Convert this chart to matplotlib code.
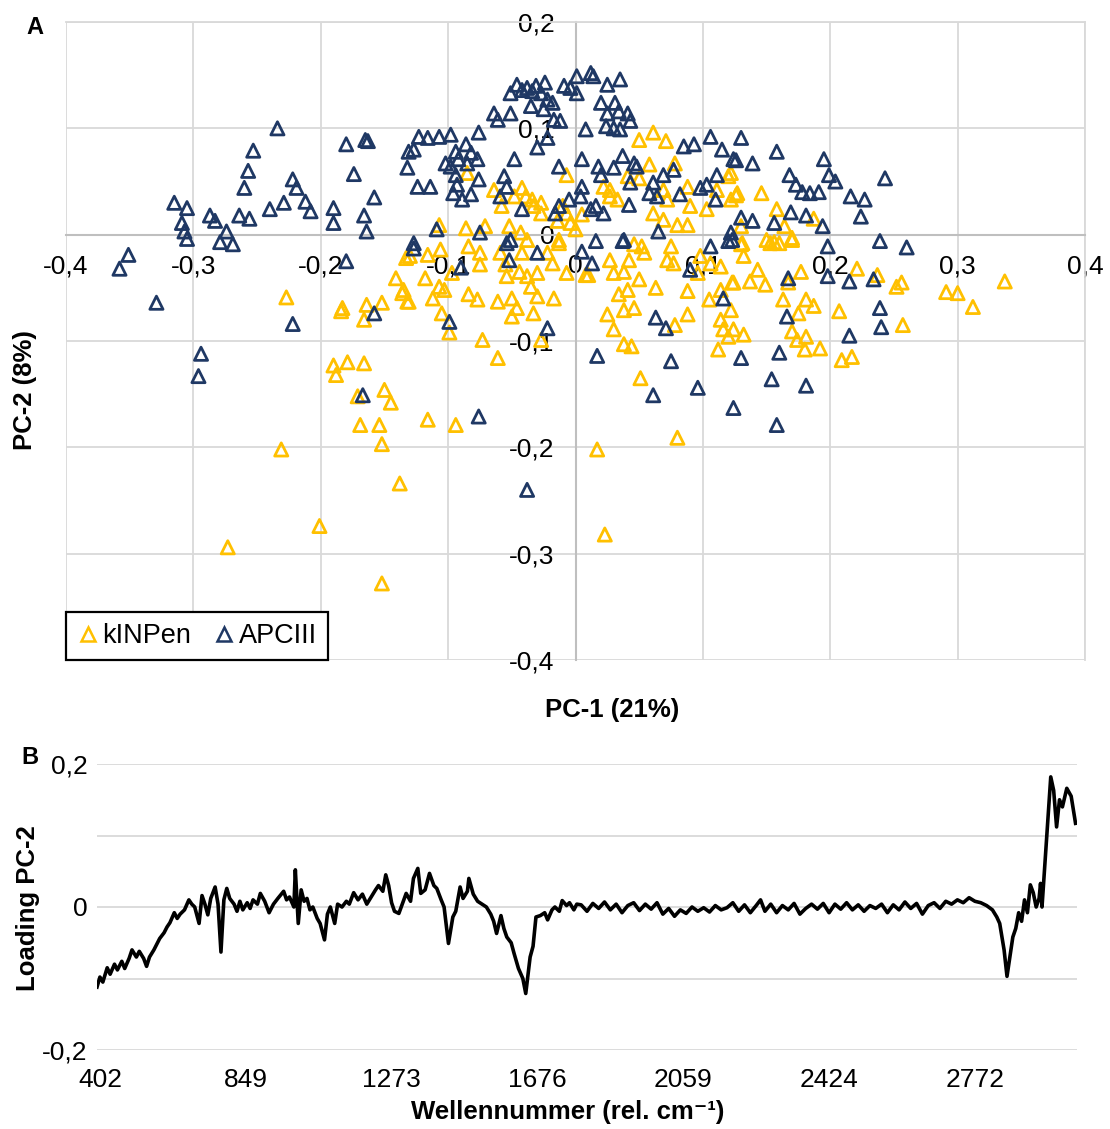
import numpy as np
import matplotlib
matplotlib.use("Agg")
import matplotlib.pyplot as plt
from matplotlib.lines import Line2D

plt.rcParams['font.family'] = ['Liberation Sans', 'DejaVu Sans']

# ---------------- panel A: PCA scores ----------------
kinpen_x = [0.050, 0.061, 0.071, 0.058, 0.078, -0.007, 0.050, 0.041, 0.022, 0.027, 0.033, 0.069,
            0.072, 0.088, 0.090, 0.061, 0.069, 0.080, 0.088, 0.103, 0.111, 0.120, 0.122, 0.127,
            -0.064, -0.042, -0.039, -0.048, -0.034, -0.027, -0.033, -0.027, -0.010, -0.007, -0.004,
            0.000, -0.014, 0.005, 0.027, -0.086, -0.071, -0.107, -0.052, -0.043, -0.038, -0.013,
            -0.058, -0.085,
            -0.130, -0.116, -0.106, -0.118, -0.107, -0.103, -0.112, -0.131, -0.135, -0.097, -0.084,
            -0.075, -0.075, -0.084, -0.077, -0.061, -0.050, -0.046, -0.050, -0.033, -0.030, -0.017,
            -0.105, -0.099, -0.073, -0.061, -0.116, -0.094, -0.035, -0.030, -0.038, -0.044, -0.054,
            -0.055, -0.059, -0.042, -0.022, -0.018, -0.007, -0.013, -0.027,
            0.008, 0.010, 0.027, 0.030, 0.038, 0.042, 0.050, 0.054, 0.052, 0.046, 0.034, 0.041,
            0.038, 0.046, 0.025, 0.030, 0.038, 0.044, 0.051, 0.063, 0.078, 0.080, 0.088, 0.088,
            0.096, 0.072, 0.077, 0.075, 0.098, 0.106, 0.114, 0.105, 0.114, 0.122, 0.123, 0.114,
            0.116, 0.112, 0.120,
            -0.227, -0.133, -0.141, -0.136, -0.132, -0.183, -0.184, -0.164, -0.166, -0.152, -0.190,
            -0.188, -0.179, -0.166, -0.171, -0.150, -0.145, -0.169, -0.154, -0.152,
            -0.231, -0.273, -0.201, -0.138, -0.152, 0.017, 0.023,
            0.132, 0.143, 0.137, 0.149, 0.124, 0.177, 0.167, 0.163, 0.181, 0.187, 0.175, 0.170,
            0.174, 0.181, 0.180, 0.192, 0.207, 0.221, 0.237, 0.252, 0.256, 0.257, 0.209, 0.217,
            0.291, 0.300, 0.312, 0.337, 0.132, 0.124, 0.160, 0.153, 0.170, 0.130,
            0.126, 0.146, 0.158, 0.187, 0.164, 0.170, 0.150, 0.156, 0.130, 0.131, 0.122]
kinpen_y = [0.089, 0.096, 0.088, 0.066, 0.067, 0.056, 0.053, 0.055, 0.045, 0.042, 0.033, 0.042,
            0.033, 0.045, 0.027, 0.020, 0.014, 0.009, 0.009, 0.024, 0.042, 0.055, 0.033, 0.039,
            0.042, 0.044, 0.036, 0.036, 0.033, 0.030, 0.027, 0.020, 0.027, 0.020, 0.011,
            0.005, 0.013, 0.019, 0.036, 0.006, 0.008, 0.009, 0.008, 0.002, -0.005, -0.005,
            0.027, 0.058,
            -0.020, -0.019, -0.014, -0.041, -0.049, -0.052, -0.060, -0.063, -0.052, -0.036, -0.011,
            -0.017, -0.028, -0.056, -0.061, -0.063, -0.060, -0.069, -0.077, -0.074, -0.058, -0.060,
            -0.074, -0.092, -0.099, -0.116, -0.174, -0.179, -0.049, -0.036, -0.039, -0.035, -0.039,
            -0.028, -0.017, -0.017, -0.017, -0.027, -0.036, -0.008, -0.099,
            -0.038, -0.038, -0.024, -0.036, -0.035, -0.024, -0.042, -0.017, -0.011, -0.009, -0.056,
            -0.052, -0.071, -0.069, -0.075, -0.089, -0.103, -0.105, -0.135, -0.050, -0.085, -0.191,
            -0.075, -0.053, -0.036, -0.024, -0.027, -0.011, -0.020, -0.027, -0.030, -0.061, -0.052,
            -0.071, -0.045, -0.080, -0.089, -0.108, -0.096,
            -0.059, -0.022, -0.041, -0.055, -0.063, -0.069, -0.072, -0.066, -0.080, -0.064, -0.123,
            -0.132, -0.120, -0.121, -0.152, -0.146, -0.158, -0.179, -0.179, -0.197,
            -0.202, -0.294, -0.274, -0.234, -0.328, -0.202, -0.282,
            -0.020, -0.033, -0.044, -0.047, -0.045, -0.035, -0.045, -0.061, -0.061, -0.067, -0.074,
            -0.091, -0.099, -0.096, -0.108, -0.107, -0.072, -0.032, -0.038, -0.049, -0.045, -0.085,
            -0.118, -0.115, -0.054, -0.055, -0.068, -0.044, -0.094, -0.089, -0.008, -0.008, -0.005,
            -0.009,
            0.037, 0.039, 0.024, 0.015, 0.008, -0.003, -0.005, -0.007, 0.008, -0.008, 0.058]

apciii_x = [-0.234, -0.253, -0.257, -0.260, -0.222, -0.219, -0.212, -0.208, -0.229, -0.240, -0.256,
            -0.264, -0.315, -0.305, -0.309, -0.307, -0.305, -0.287, -0.283, -0.274, -0.279, -0.269,
            -0.180, -0.165, -0.163, -0.174, -0.158, -0.190, -0.190, -0.166, -0.164, -0.131, -0.132,
            -0.351, -0.358, -0.329, -0.222, -0.294, -0.296, -0.180, -0.158, -0.167,
            0.198, 0.239, 0.260, 0.167, 0.198, 0.215, 0.234, 0.239, 0.240, 0.215, 0.166, 0.160,
            0.130, 0.154, 0.181, 0.124, 0.158,
            0.130, 0.126, 0.139, 0.158, 0.195, 0.168, 0.173, 0.178, 0.184, 0.191, 0.199, 0.204,
            0.243, 0.216, 0.227, 0.224, 0.169, 0.181, 0.156, 0.194, 0.130, 0.139, 0.123,
            -0.046, -0.051, -0.042, -0.038, -0.034, -0.031, -0.027, -0.024, -0.022, -0.018, -0.025,
            -0.035, -0.051, -0.064, -0.061, -0.017, -0.012, -0.022, -0.030, -0.009, -0.004, 0.001,
            0.001, 0.012, 0.014, 0.025, 0.035, 0.020, 0.025, 0.031, 0.034, 0.041, 0.043, 0.024,
            0.030, 0.035, 0.008,
            -0.123, -0.116, -0.107, -0.098, -0.076, -0.127, -0.102, -0.094, -0.086, -0.082, -0.077,
            -0.092, -0.085, -0.098, -0.094, -0.093, -0.096, -0.089, -0.082, -0.076, -0.124, -0.114,
            -0.048, -0.056, -0.054, -0.059, -0.013, 0.005, 0.005, 0.004, -0.005, -0.013, -0.016,
            0.012, 0.016, 0.022, -0.042, -0.051, -0.075, -0.109, -0.127, 0.018, 0.020, 0.030,
            0.037, 0.046, 0.048, 0.043, 0.061, 0.058, 0.064, 0.069, 0.077, 0.042, 0.065, 0.082,
            0.085, 0.093, 0.106, 0.115, 0.124, 0.098, 0.103, 0.111, 0.110, 0.122, 0.038, 0.016,
            -0.127, -0.090, -0.099, -0.054, -0.052, -0.030, -0.022, 0.005, 0.013, 0.037, 0.063,
            0.071, 0.017, 0.075, 0.061, 0.096, -0.076, 0.106, 0.120, 0.116, 0.090, -0.038]
apciii_y = [0.100, 0.079, 0.060, 0.044, 0.052, 0.044, 0.031, 0.022, 0.030, 0.024, 0.015,
            0.018, 0.030, 0.025, 0.011, 0.003, -0.004, 0.018, 0.013, 0.003, -0.007, -0.009,
            0.085, 0.089, 0.088, 0.057, 0.035, 0.025, 0.011, 0.018, 0.003, 0.078, 0.063,
            -0.019, -0.032, -0.064, -0.084, -0.112, -0.133, -0.025, -0.074, -0.151,
            -0.011, -0.006, -0.012, -0.041, -0.039, -0.044, -0.042, -0.069, -0.087, -0.095, -0.077,
            -0.111, -0.116, -0.136, -0.142, -0.163, -0.179,
            0.091, 0.070, 0.067, 0.078, 0.071, 0.056, 0.047, 0.040, 0.039, 0.040, 0.056, 0.050,
            0.053, 0.036, 0.033, 0.017, 0.021, 0.018, 0.011, 0.008, 0.016, 0.013, -0.005,
            0.141, 0.133, 0.136, 0.138, 0.135, 0.140, 0.133, 0.143, 0.127, 0.124, 0.118,
            0.121, 0.114, 0.114, 0.108, 0.108, 0.107, 0.091, 0.082, 0.140, 0.138, 0.149,
            0.133, 0.152, 0.149, 0.141, 0.146, 0.124, 0.114, 0.124, 0.116, 0.114, 0.107, 0.102,
            0.100, 0.099, 0.099,
            0.092, 0.091, 0.092, 0.094, 0.096, 0.080, 0.067, 0.078, 0.085, 0.077, 0.071,
            0.071, 0.067, 0.064, 0.056, 0.047, 0.039, 0.033, 0.038, 0.052, 0.045, 0.045,
            0.071, 0.055, 0.045, 0.036, 0.064, 0.071, 0.045, 0.036, 0.033, 0.027, 0.020,
            0.024, 0.027, 0.020, 0.024, -0.005, 0.002, 0.005, -0.008, 0.064, 0.056, 0.063,
            0.074, 0.067, 0.064, 0.049, 0.049, 0.039, 0.036, 0.056, 0.061, 0.028, 0.003, 0.038,
            0.083, 0.085, 0.092, 0.080, 0.071, 0.044, 0.047, 0.056, 0.033, 0.002, -0.005, -0.006,
            -0.013, -0.031, -0.082, -0.008, -0.024, -0.017, -0.088, -0.016, -0.027, -0.006, -0.078,
            -0.088, -0.114, -0.119, -0.151, -0.144, -0.171, -0.011, -0.006, -0.060, -0.033, -0.240]

# ---------------- panel B: loading PC-2 ----------------
wn_labels = ["402", "849", "1273", "1676", "2059", "2424", "2772"]
load_pos = [-0.02, 0.00, 0.02, 0.05, 0.07, 0.10, 0.12, 0.15, 0.17, 0.20, 0.22, 0.25, 0.27, 0.30,
            0.32, 0.34, 0.37, 0.39, 0.41, 0.44, 0.46, 0.48, 0.51, 0.53, 0.55, 0.58, 0.61, 0.63,
            0.65, 0.68, 0.70, 0.72, 0.74, 0.76, 0.79, 0.81, 0.83, 0.85, 0.87, 0.89, 0.92, 0.94,
            0.96, 0.98, 1.01, 1.03, 1.05, 1.08, 1.10, 1.13, 1.16, 1.19, 1.22, 1.26, 1.28, 1.30,
            1.33, 1.34, 1.36, 1.38, 1.40, 1.42, 1.44, 1.46, 1.49, 1.51, 1.54, 1.56, 1.58, 1.61,
            1.63, 1.66, 1.69, 1.71, 1.74, 1.77, 1.80, 1.83, 1.86, 1.89, 1.91, 1.94, 1.96, 1.98,
            2.00, 2.02, 2.05, 2.08, 2.10, 2.13, 2.15, 2.18, 2.20, 2.23, 2.26, 2.29, 2.31, 2.34,
            2.36, 2.39, 2.42, 2.44, 2.47, 2.49, 2.52, 2.53, 2.56, 2.59, 2.62, 2.65, 2.68, 2.70,
            2.72, 2.75, 2.77, 2.79, 2.82, 2.84, 2.87, 2.90, 2.92, 2.95, 2.97, 2.99, 3.02, 3.05,
            3.07, 3.10, 3.12, 3.15, 3.17, 3.20, 3.22, 3.25, 3.27,
            3.30, 3.34, 3.38, 3.42, 3.46, 3.50, 3.54, 3.58, 3.62, 3.66, 3.70, 3.74, 3.78, 3.82,
            3.86, 3.90, 3.94, 3.98, 4.02, 4.06, 4.10, 4.14, 4.18, 4.22, 4.26, 4.30, 4.34, 4.38,
            4.42, 4.46, 4.50, 4.53, 4.56, 4.60, 4.64, 4.68, 4.72, 4.76, 4.80, 4.84, 4.88, 4.92,
            4.96, 5.00, 5.04, 5.08, 5.12, 5.16, 5.20, 5.24, 5.28, 5.32, 5.36, 5.40, 5.44, 5.48,
            5.52, 5.56, 5.60, 5.64, 5.68, 5.72, 5.76, 5.80, 5.84, 5.88, 5.92, 5.96, 6.00, 6.04,
            6.08, 6.12, 6.15, 6.17, 6.20, 6.22, 6.24, 6.26, 6.28, 6.30, 6.32, 6.34, 6.36, 6.38,
            6.40, 6.42, 6.44, 6.45, 6.46, 6.48, 6.50, 6.52, 6.54, 6.56, 6.58, 6.60, 6.63, 6.66,
            6.69]
load_val = [-0.112, -0.098, -0.105, -0.085, -0.094, -0.080, -0.088, -0.076, -0.086, -0.072, -0.060,
            -0.070, -0.062, -0.072, -0.083, -0.070, -0.060, -0.052, -0.044, -0.036, -0.028, -0.022,
            -0.008, -0.016, -0.010, -0.004, 0.010, 0.004, 0.000, -0.023, 0.016, 0.004, -0.011,
            0.012, 0.028, 0.004, -0.063, 0.010, 0.026, 0.012, 0.004, -0.006, 0.008, -0.004, 0.006,
            -0.002, 0.010, 0.004, 0.019, 0.008, -0.008, 0.004, 0.012, 0.022, 0.010, 0.014, 0.000,
            0.052, -0.023, 0.024, 0.008, 0.012, -0.004, 0.000, -0.016, -0.023, -0.046, -0.010,
            0.000, -0.023, 0.004, 0.000, 0.008, 0.004, 0.020, 0.010, 0.018, 0.004, 0.014, 0.024,
            0.030, 0.022, 0.045, 0.030, 0.006, -0.006, -0.009, 0.008, 0.019, 0.008, 0.040, 0.054,
            0.019, 0.024, 0.047, 0.030, 0.026, 0.010, 0.000, -0.051, -0.014, -0.006, 0.028, 0.012,
            0.022, 0.040, 0.018, 0.008, 0.004, 0.000, -0.010, -0.020, -0.037, -0.012, -0.030,
            -0.042, -0.050, -0.065, -0.086, -0.100, -0.121, -0.070, -0.055, -0.014, -0.012, -0.008,
            -0.018, -0.004, 0.000, -0.006, 0.009, 0.002, 0.006, -0.004, 0.004,
            0.003, -0.006, 0.005, -0.002, 0.007, -0.004, 0.004, -0.008, 0.002, 0.006, -0.005, 0.004,
            -0.003, 0.006, -0.010, -0.002, -0.013, -0.004, -0.009, 0.000, -0.006, -0.001, -0.007,
            0.002, -0.004, -0.001, 0.006, -0.006, 0.003, -0.008, 0.002, 0.010, -0.006, 0.004,
            -0.008, 0.002, -0.004, 0.005, -0.010, -0.002, 0.004, -0.003, 0.005, -0.008, 0.004,
            -0.003, 0.006, -0.004, 0.003, -0.006, 0.002, -0.002, 0.004, -0.008, 0.003, -0.004,
            0.007, -0.002, 0.005, -0.010, 0.002, 0.006, -0.002, 0.008, 0.004, 0.010, 0.006, 0.013,
            0.008, 0.006, 0.002, -0.004, -0.014, -0.023, -0.060, -0.097, -0.070, -0.042, -0.030,
            -0.008, -0.020, 0.010, -0.008, 0.031, 0.020, 0.000, 0.012, 0.033, 0.000, 0.060, 0.120,
            0.182, 0.163, 0.112, 0.150, 0.140, 0.166, 0.155, 0.117]

navy = "#1F3864"
gold = "#FFC000"
grid_c = "#D9D9D9"
W, H = 1110, 1129


def fmt(v):
    if abs(v) < 1e-9:
        return "0"
    return f"{v:.1f}".replace(".", ",")


fig = plt.figure(figsize=(W / 100, H / 100), dpi=100)

# ---- panel A ----
axA = fig.add_axes([66 / W, 1 - 660 / H, (1085 - 66) / W, (660 - 22) / H])
axA.set_xlim(-0.4, 0.4)
axA.set_ylim(-0.4, 0.2)
xt = np.round(np.arange(-0.4, 0.41, 0.1), 1)
yt = np.round(np.arange(-0.4, 0.21, 0.1), 1)
axA.set_xticks(xt)
axA.set_xticklabels([fmt(v) for v in xt])
axA.set_yticks(yt)
axA.set_yticklabels([fmt(v) for v in yt])
axA.grid(True, color=grid_c, lw=1.3)
axA.set_axisbelow(True)
axA.spines['left'].set_position(('data', 0))
axA.spines['bottom'].set_position(('data', 0))
for s in ['left', 'bottom']:
    axA.spines[s].set_color('#BFBFBF')
    axA.spines[s].set_linewidth(1.5)
for s in ['top', 'right']:
    axA.spines[s].set_color(grid_c)
    axA.spines[s].set_linewidth(1.3)
axA.tick_params(axis='both', length=0, labelsize=19)
axA.tick_params(axis='x', pad=14)
axA.tick_params(axis='y', pad=15)

axA.scatter(kinpen_x, kinpen_y, marker='^', s=90, facecolors='none', edgecolors=gold,
            linewidths=2.0, zorder=3)
axA.scatter(apciii_x, apciii_y, marker='^', s=90, facecolors='none', edgecolors=navy,
            linewidths=2.0, zorder=3)

handles = [Line2D([], [], marker='^', ls='none', mfc='none', mec=gold, mew=1.8, ms=10),
           Line2D([], [], marker='^', ls='none', mfc='none', mec=navy, mew=1.8, ms=10)]
leg = axA.legend(handles, ["kINPen", "APCIII"], loc='lower left', bbox_to_anchor=(0, 0),
                 borderaxespad=0, ncol=2, fontsize=19.5, frameon=True, fancybox=False,
                 framealpha=1, edgecolor='black', handlelength=0.8, handletextpad=0.15,
                 columnspacing=0.8, borderpad=0.4)
leg.get_frame().set_linewidth(1.6)
leg.set_zorder(5)

fig.text(612 / W, 1 - 710 / H, "PC-1 (21%)", ha='center', va='center', fontsize=18.5,
         fontweight='bold')
fig.text(25 / W, 1 - 390 / H, "PC-2 (8%)", ha='center', va='center', fontsize=18.5,
         fontweight='bold', rotation=90)
fig.text(35 / W, 1 - 28 / H, "A", ha='center', va='center', fontsize=17, fontweight='bold')

# ---- panel B ----
axB = fig.add_axes([97 / W, 1 - 1050 / H, (1077 - 97) / W, (1050 - 764) / H])
axB.plot(load_pos, load_val, color='black', lw=2.6)
axB.set_xlim(-0.02, 6.70)
axB.set_ylim(-0.2, 0.2)
axB.set_xticks(range(len(wn_labels)))
axB.set_xticklabels(wn_labels)
axB.set_yticks([-0.2, -0.1, 0, 0.1, 0.2])
axB.set_yticklabels(["-0,2", "", "0", "", "0,2"])
axB.grid(True, axis='y', color=grid_c, lw=1.3)
axB.set_axisbelow(True)
for s in axB.spines.values():
    s.set_visible(False)
axB.tick_params(axis='both', length=0, labelsize=19)
axB.tick_params(axis='x', pad=13)
axB.tick_params(axis='y', pad=7)

fig.text(28 / W, 1 - 908 / H, "Loading PC-2", ha='center', va='center', fontsize=18.5,
         fontweight='bold', rotation=90)
fig.text(568 / W, 1 - 1112 / H, "Wellennummer (rel. cm⁻¹)", ha='center', va='center',
         fontsize=18.5, fontweight='bold')
fig.text(30 / W, 1 - 757 / H, "B", ha='center', va='center', fontsize=17, fontweight='bold')

fig.savefig("out.png", dpi=100)
